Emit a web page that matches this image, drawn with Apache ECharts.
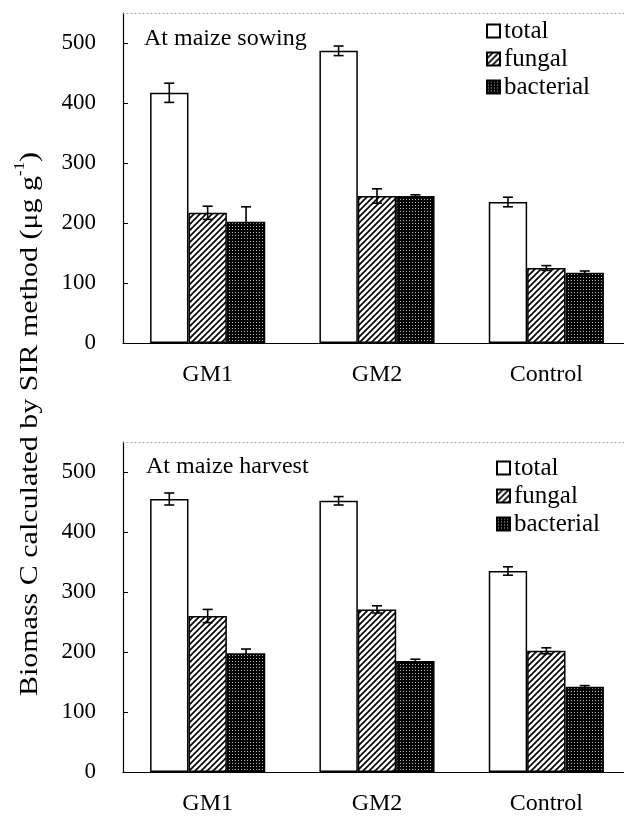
<!DOCTYPE html>
<html>
<head>
<meta charset="utf-8">
<script src="https://cdn.jsdelivr.net/npm/echarts@6/dist/echarts.min.js"></script>
<style>
html,body{margin:0;padding:0;background:#fff;}
#main{width:624px;height:816px;}
</style>
</head>
<body>
<div id="main"></div>
<script>
const categories = ['GM1', 'GM2', 'Control'];
const seriesNames = ['total', 'fungal', 'bacterial'];
const yTickValues = [0, 100, 200, 300, 400, 500];

const sowingTotal = [417, 487, 235];
const sowingTotalErr = [16, 8, 8];
const sowingFungal = [217, 245, 125];
const sowingFungalErr = [11, 12, 4];
const sowingBacterial = [202, 245, 117];
const sowingBacterialErr = [25, 2, 3];

const harvestTotal = [455, 452, 335];
const harvestTotalErr = [10, 7, 7];
const harvestFungal = [260, 271, 202];
const harvestFungalErr = [11, 6, 5];
const harvestBacterial = [198, 185, 142];
const harvestBacterialErr = [7, 3, 2];

const panelTitles = ['At maize sowing', 'At maize harvest'];

function makeStripe() {
  const c = document.createElement('canvas');
  c.width = 6; c.height = 6;
  const g = c.getContext('2d');
  g.fillStyle = '#fff'; g.fillRect(0, 0, 6, 6);
  g.strokeStyle = '#000'; g.lineWidth = 1.7;
  g.beginPath();
  g.moveTo(-1, 7); g.lineTo(7, -1);
  g.moveTo(-4, 4); g.lineTo(4, -4);
  g.moveTo(2, 10); g.lineTo(10, 2);
  g.stroke();
  return c;
}
function makeDots() {
  const c = document.createElement('canvas');
  c.width = 3; c.height = 3;
  const g = c.getContext('2d');
  g.fillStyle = '#000'; g.fillRect(0, 0, 3, 3);
  g.fillStyle = '#bbb'; g.fillRect(1, 1, 1, 1);
  return c;
}
const fills = [
  '#ffffff',
  { image: makeStripe(), repeat: 'repeat' },
  { image: makeDots(), repeat: 'repeat' }
];

const panels = [
  { vals: [sowingTotal, sowingFungal, sowingBacterial], errs: [sowingTotalErr, sowingFungalErr, sowingBacterialErr] },
  { vals: [harvestTotal, harvestFungal, harvestBacterial], errs: [harvestTotalErr, harvestFungalErr, harvestBacterialErr] }
];

const serif = 'Liberation Serif, Times New Roman, serif';
const GAP = 0.32;

const grids = [
  { left: 123, top: 13, width: 508, height: 330, outerBoundsMode: 'none', containLabel: false },
  { left: 123, top: 442, width: 508, height: 330, outerBoundsMode: 'none', containLabel: false }
];

const xAxes = [], yAxes = [], series = [];
grids.forEach((g, gi) => {
  xAxes.push({
    type: 'category', gridIndex: gi, data: categories,
    axisLine: { lineStyle: { color: '#000', width: 1.2 } },
    axisTick: { inside: true, length: 4, lineStyle: { color: '#000' } },
    axisLabel: { color: '#000', fontFamily: serif, fontSize: 24, margin: 20 }
  });
  xAxes.push({
    type: 'category', gridIndex: gi, data: categories, position: 'top',
    axisLine: { lineStyle: { color: '#999', width: 1, type: [1, 3] } },
    axisTick: { show: false }, axisLabel: { show: false }
  });
  yAxes.push({
    type: 'value', gridIndex: gi, min: 0, max: 550, interval: 100,
    splitLine: { show: false },
    axisLine: { show: true, lineStyle: { color: '#000', width: 1.2 } },
    axisTick: { show: true, inside: true, length: 5, customValues: yTickValues, lineStyle: { color: '#000' } },
    axisLabel: { color: '#000', fontFamily: serif, fontSize: 23, margin: 27, customValues: yTickValues }
  });
});

panels.forEach((p, gi) => {
  for (let s = 0; s < 3; s++) {
    series.push({
      type: 'bar', name: seriesNames[s], xAxisIndex: gi * 2, yAxisIndex: gi,
      data: p.vals[s], barGap: '0%', barCategoryGap: (GAP * 100) + '%',
      itemStyle: { color: fills[s], borderColor: '#000', borderWidth: 1.5 },
      z: 2
    });
  }
  for (let s = 0; s < 3; s++) {
    const off = s - 1;
    series.push({
      type: 'custom', name: 'err' + gi + s, xAxisIndex: gi * 2, yAxisIndex: gi,
      data: p.vals[s].map((v, i) => [i, v, p.errs[s][i]]),
      encode: { x: 0, y: 1 }, z: 5,
      renderItem: function (params, api) {
        const ci = api.value(0), v = api.value(1), e = api.value(2);
        const band = api.size([1, 0])[0];
        const bw = band * (1 - GAP) / 3;
        const c = api.coord([ci, v]);
        const x = c[0] + off * bw;
        const yt = api.coord([ci, v + e])[1];
        const yb = api.coord([ci, v - e])[1];
        const cap = 5;
        const st = { stroke: '#000', lineWidth: 1.6 };
        return {
          type: 'group', children: [
            { type: 'line', shape: { x1: x, y1: yt, x2: x, y2: yb }, style: st },
            { type: 'line', shape: { x1: x - cap, y1: yt, x2: x + cap, y2: yt }, style: st },
            { type: 'line', shape: { x1: x - cap, y1: yb, x2: x + cap, y2: yb }, style: st }
          ]
        };
      }
    });
  }
});

const legendText = { fontFamily: serif, fontSize: 25, color: '#000', padding: [0, 0, 0, -1], lineHeight: 26 };

const chart = echarts.init(document.getElementById('main'), null, { renderer: 'canvas' });
chart.setOption({
  animation: false,
  backgroundColor: '#fff',
  grid: grids,
  xAxis: xAxes,
  yAxis: yAxes,
  title: [
    { text: panelTitles[0], left: 139, top: 22, textStyle: { fontFamily: serif, fontSize: 24, fontWeight: 'normal', color: '#000' } },
    { text: panelTitles[1], left: 141, top: 450, textStyle: { fontFamily: serif, fontSize: 24, fontWeight: 'normal', color: '#000' } }
  ],
  legend: [
    { data: seriesNames, orient: 'vertical', left: 486, top: 18, itemWidth: 13, itemHeight: 13, itemGap: 2, icon: 'rect', padding: 0,
      textStyle: legendText },
    { data: seriesNames, orient: 'vertical', left: 496, top: 455, itemWidth: 13, itemHeight: 13, itemGap: 2, icon: 'rect', padding: 0,
      textStyle: legendText }
  ],
  graphic: [{
    type: 'text', x: 28, y: 424, rotation: Math.PI / 2, scaleX: 1.2,
    style: {
      text: '{m|Biomass C calculated by SIR method (μg g}{s|-1}{m|)}',
      align: 'center', verticalAlign: 'middle',
      rich: {
        m: { fontFamily: serif, fontSize: 25, color: '#000', lineHeight: 30, verticalAlign: 'bottom' },
        s: { fontFamily: serif, fontSize: 14, color: '#000', lineHeight: 30, verticalAlign: 'top' }
      }
    }
  }],
  series: series
});
</script>
</body>
</html>
